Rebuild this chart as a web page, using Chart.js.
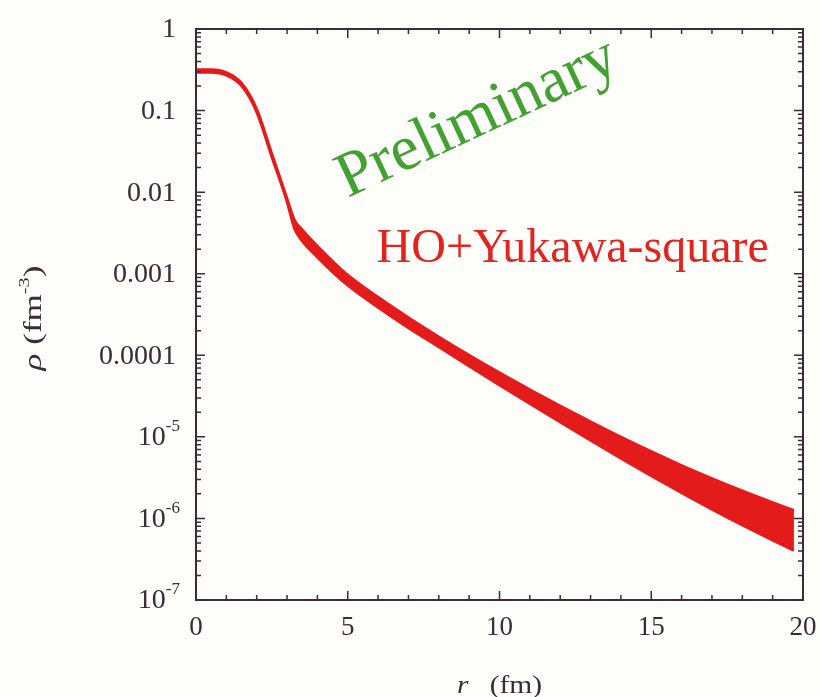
<!DOCTYPE html>
<html>
<head>
<meta charset="utf-8">
<script src="https://cdn.jsdelivr.net/npm/chart.js@4"></script>
<style>
  html, body { margin: 0; padding: 0; background: #fdfdf9; }
  #wrap { width: 820px; height: 697px; }
</style>
</head>
<body>
<div id="wrap"><canvas id="rhoChart" width="820" height="697"></canvas></div>
<script>
// density band (upper / lower edge of the red band)
const radius   = [0, 0.5, 1, 1.5, 2, 2.5, 3, 3.25, 3.5, 4, 5, 6, 7, 8, 9, 10, 11, 12, 13, 14, 15, 16, 17, 18, 19, 19.7];
const rhoUpper = [0.316, 0.316, 0.292, 0.216, 0.1035, 0.0292, 0.00822, 0.00447, 0.00344, 0.00217, 9.57e-4, 5.14e-4, 2.89e-4, 1.68e-4,
                  1.00e-4, 6.08e-5, 3.78e-5, 2.39e-5, 1.53e-5, 9.93e-6, 6.58e-6, 4.45e-6, 3.08e-6, 2.17e-6, 1.56e-6, 1.25e-6];
const rhoLower = [0.295, 0.295, 0.272, 0.202, 0.0966, 0.0272, 0.00767, 0.00355, 0.00253, 0.00160, 7.23e-4, 3.88e-4, 2.18e-4, 1.27e-4,
                  7.38e-5, 4.33e-5, 2.56e-5, 1.52e-5, 9.08e-6, 5.47e-6, 3.34e-6, 2.07e-6, 1.30e-6, 8.32e-7, 5.43e-7, 4.07e-7];

const xTickValues = [0, 5, 10, 15, 20];
const yTickValues = [1, 0.1, 0.01, 0.001, 0.0001, 1e-5, 1e-6, 1e-7];
const yTickLabels = ['1', '0.1', '0.01', '0.001', '0.0001', '10^-5', '10^-6', '10^-7'];

const axisColor = '#3e2a38';
const serif = '"Liberation Serif", "DejaVu Serif", serif';

// frame, inward ticks on all sides, y labels, titles and the two notes
const decor = {
  id: 'decor',
  afterDraw(chart) {
    const ctx = chart.ctx;
    const a = chart.chartArea;
    const xs = chart.scales.x, ys = chart.scales.y;
    ctx.save();
    ctx.strokeStyle = axisColor;
    ctx.lineWidth = 2;
    ctx.strokeRect(a.left, a.top, a.right - a.left, a.bottom - a.top);

    ctx.lineWidth = 1.5;
    ctx.beginPath();
    for (let v = 0; v <= 20; v++) {
      const px = xs.getPixelForValue(v);
      const len = v % 5 === 0 ? 9 : 5;
      ctx.moveTo(px, a.bottom); ctx.lineTo(px, a.bottom - len);
      ctx.moveTo(px, a.top); ctx.lineTo(px, a.top + len);
    }
    for (let e = -7; e <= 0; e++) {
      for (let k = 1; k <= 9; k++) {
        if (e === 0 && k > 1) break;
        const py = ys.getPixelForValue(k * Math.pow(10, e));
        const len = k === 1 ? 9 : 5;
        ctx.moveTo(a.left, py); ctx.lineTo(a.left + len, py);
        ctx.moveTo(a.right, py); ctx.lineTo(a.right - len, py);
      }
    }
    ctx.stroke();

    // y tick labels
    ctx.fillStyle = axisColor;
    ctx.textBaseline = 'middle';
    const labRight = a.left - 20;
    yTickValues.forEach((v, i) => {
      const py = ys.getPixelForValue(v);
      const txt = yTickLabels[i];
      if (txt.includes('^')) {
        const [base, sup] = txt.split('^');
        ctx.font = '17px ' + serif;
        const ws = ctx.measureText(sup).width;
        ctx.textAlign = 'left';
        ctx.fillText(sup, labRight + 4 - ws, py - 10);
        ctx.font = '28px ' + serif;
        ctx.textAlign = 'right';
        ctx.fillText(base, labRight + 4 - ws, py + 1);
      } else {
        ctx.font = '28px ' + serif;
        ctx.textAlign = 'right';
        ctx.fillText(txt, labRight, py + 1);
      }
    });

    // x title:  r  (fm)
    const xc = (a.left + a.right) / 2;
    ctx.save();
    ctx.translate(xc, 686);
    ctx.scale(1.18, 1);
    ctx.font = 'italic 25px ' + serif;
    const wr = ctx.measureText('r').width;
    ctx.font = '25px ' + serif;
    const wf = ctx.measureText('(fm)').width;
    const gap = 18;
    const x0 = -(wr + gap + wf) / 2;
    ctx.textAlign = 'left';
    ctx.font = 'italic 25px ' + serif;
    ctx.fillText('r', x0, 0);
    ctx.font = '25px ' + serif;
    ctx.fillText('(fm)', x0 + wr + gap, 0);
    ctx.restore();

    // y title:  rho (fm^-3), rotated
    ctx.save();
    ctx.translate(34, 318);
    ctx.rotate(-Math.PI / 2);
    ctx.scale(1.35, 1);
    const parts = [
      { t: '\u03C1', f: 'italic 26px ' + serif, dy: 0 },
      { t: ' (fm', f: '26px ' + serif, dy: 0 },
      { t: '-3', f: '15px ' + serif, dy: -9 },
      { t: ')', f: '26px ' + serif, dy: 0 }
    ];
    let total = 0;
    parts.forEach(p => { ctx.font = p.f; p.w = ctx.measureText(p.t).width; total += p.w; });
    let cx = -total / 2;
    ctx.textAlign = 'left';
    parts.forEach(p => { ctx.font = p.f; ctx.fillText(p.t, cx, p.dy); cx += p.w; });
    ctx.restore();

    // "Preliminary"
    ctx.save();
    ctx.translate(xs.getPixelForValue(5.0), ys.getPixelForValue(8.5e-3));
    ctx.rotate(-25 * Math.PI / 180);
    ctx.font = '64px ' + serif;
    ctx.fillStyle = '#43a032';
    ctx.textAlign = 'left';
    ctx.textBaseline = 'alphabetic';
    ctx.fillText('Preliminary', 0, 0);
    ctx.restore();

    // model label
    ctx.font = '48px ' + serif;
    ctx.fillStyle = '#e2231f';
    ctx.textAlign = 'left';
    ctx.textBaseline = 'alphabetic';
    ctx.fillText('HO+Yukawa-square', xs.getPixelForValue(5.95), ys.getPixelForValue(1.4e-3));
    ctx.restore();
  }
};

const bandColor = '#e41b1b';

new Chart(document.getElementById('rhoChart'), {
  type: 'line',
  data: {
    datasets: [
      {
        label: 'lower',
        data: radius.map((r, i) => ({ x: r, y: rhoLower[i] })),
        borderColor: bandColor,
        borderWidth: 3,
        pointRadius: 0,
        fill: false,
        cubicInterpolationMode: 'monotone'
      },
      {
        label: 'upper',
        data: radius.map((r, i) => ({ x: r, y: rhoUpper[i] })),
        borderColor: bandColor,
        backgroundColor: bandColor,
        borderWidth: 3,
        pointRadius: 0,
        fill: '-1',
        cubicInterpolationMode: 'monotone'
      }
    ]
  },
  options: {
    responsive: false,
    animation: false,
    layout: { padding: { top: 29, right: 17, left: 0, bottom: 0 } },
    plugins: { legend: { display: false }, tooltip: { enabled: false } },
    scales: {
      x: {
        type: 'linear',
        min: 0,
        max: 20,
        afterBuildTicks: s => { s.ticks = xTickValues.map(v => ({ value: v })); },
        ticks: { color: axisColor, font: { family: serif, size: 27 }, padding: 12, maxRotation: 0 },
        grid: { display: false, drawTicks: false },
        border: { display: false },
        afterFit: s => { s.height = 97; s.paddingLeft = 0; s.paddingRight = 0; }
      },
      y: {
        type: 'logarithmic',
        min: 1e-7,
        max: 1,
        ticks: { display: false },
        grid: { display: false, drawTicks: false },
        border: { display: false },
        afterFit: s => { s.width = 196; s.paddingTop = 0; s.paddingBottom = 0; }
      }
    }
  },
  plugins: [decor]
});
</script>
</body>
</html>
